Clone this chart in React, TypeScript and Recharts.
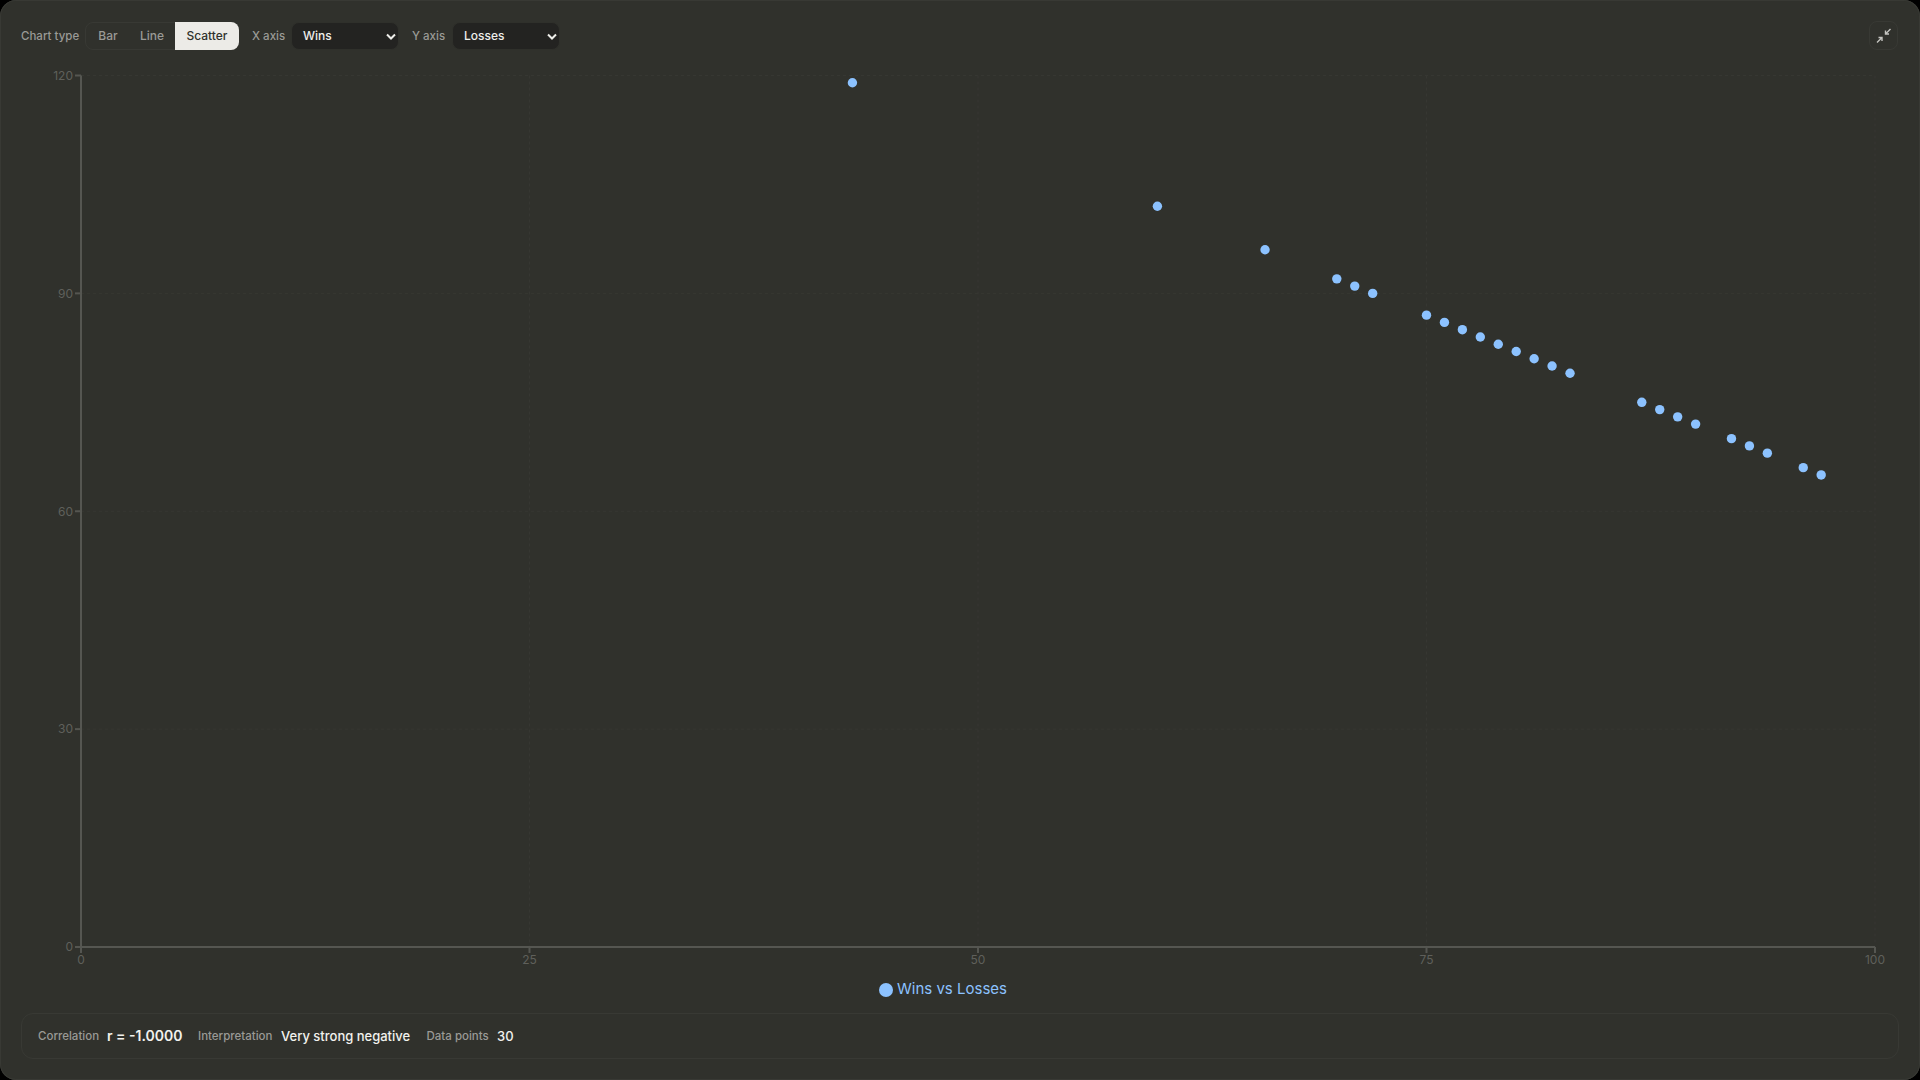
import { FC } from "react";
import {
  ScatterChart,
  Scatter,
  XAxis,
  YAxis,
  CartesianGrid,
  Legend,
} from "recharts";

const WINS = [43, 60, 66, 70, 71, 72, 75, 76, 77, 78, 79, 80, 81, 82, 83, 87, 88, 89, 90, 92, 93, 94, 96, 97];
const LOSSES = [119, 102, 96, 92, 91, 90, 87, 86, 85, 84, 83, 82, 81, 80, 79, 75, 74, 73, 72, 70, 69, 68, 66, 65];
const X_TICKS = [0, 25, 50, 75, 100];
const Y_TICKS = [0, 30, 60, 90, 120];
const CHART_TYPES = ["Bar", "Line", "Scatter"];
const SERIES_NAME = "Wins vs Losses";

const points = WINS.map((wins, i) => ({ wins, losses: LOSSES[i] }));

const FONT = "Inter, sans-serif";
const BLUE = "#8cc2ff";

const label = { fontSize: 11.5, color: "#9a9a96", fontWeight: 500 };

const Select: FC<{ text: string; left: number }> = ({ text, left }) => (
  <div
    style={{
      position: "absolute",
      left,
      top: 22,
      width: 108,
      height: 28,
      boxSizing: "border-box",
      background: "#232321",
      border: "1px solid #2f302b",
      borderRadius: 8,
      color: "#eeeeea",
      fontSize: 12,
      fontWeight: 500,
      lineHeight: "26px",
      paddingLeft: 11,
    }}
  >
    {text}
    <svg width="10" height="8" style={{ position: "absolute", right: 2, top: 10 }}>
      <path d="M1 1.5 L5 5.5 L9 1.5" fill="none" stroke="#eeeeea" strokeWidth="2" />
    </svg>
  </div>
);

const Dot = (props: any) => <circle cx={props.cx} cy={props.cy} r={4.7} fill={BLUE} />;

export default function App() {
  return (
    <div
      style={{
        position: "fixed",
        left: 0,
        top: 0,
        width: 1920,
        height: 1080,
        background: "#000",
        fontFamily: FONT,
        overflow: "hidden",
      }}
    >
      <div
        style={{
          position: "absolute",
          inset: 0,
          background: "#30312c",
          borderRadius: 16,
          boxShadow: "inset 0 0 0 1px #383934",
        }}
      />

      <span style={{ ...label, position: "absolute", left: 21, top: 29 }}>Chart type</span>
      <div
        style={{
          position: "absolute",
          left: 85,
          top: 22,
          width: 154,
          height: 28,
          boxSizing: "border-box",
          border: "1px solid #383934",
          borderRadius: 8,
        }}
      />
      {CHART_TYPES.map((t, i) => (
        <div
          key={t}
          style={{
            position: "absolute",
            left: [90, 140, 175][i],
            top: 22,
            width: [36, 22, 64][i],
            height: 28,
            lineHeight: "28px",
            textAlign: "center",
            fontSize: 12,
            fontWeight: 500,
            color: t === "Scatter" ? "#30312c" : "#9a9a96",
            background: t === "Scatter" ? "#ecebe7" : "transparent",
            borderRadius: t === "Scatter" ? "0 8px 8px 0" : 0,
          }}
        >
          {t}
        </div>
      ))}
      <span style={{ ...label, position: "absolute", left: 252, top: 29 }}>X axis</span>
      <Select text="Wins" left={291} />
      <span style={{ ...label, position: "absolute", left: 412, top: 29 }}>Y axis</span>
      <Select text="Losses" left={452} />

      <div
        style={{
          position: "absolute",
          left: 1869,
          top: 21,
          width: 29,
          height: 29,
          boxSizing: "border-box",
          border: "1px solid #383934",
          borderRadius: 8,
        }}
      >
        <svg width="16" height="16" style={{ position: "absolute", left: 6, top: 6 }}>
          <path
            d="M14.5 1 L9.5 6 M9.5 2.5 V6 H13 M1 14.5 L6 9.5 M6 13 V9.5 H2.5"
            fill="none"
            stroke="#c4c4c0"
            strokeWidth="1.4"
          />
        </svg>
      </div>

      <div style={{ position: "absolute", left: 0, top: 60 }}>
        <ScatterChart
          width={1900}
          height={978}
          margin={{ top: 15.5, right: 25, bottom: 40, left: 21 }}
        >
          <CartesianGrid stroke="#363732" strokeDasharray="3 3" />
          <XAxis
            type="number"
            dataKey="wins"
            domain={[0, 100]}
            ticks={X_TICKS}
            height={32}
            stroke="#555651"
            tick={{ fill: "#5f605b", fontSize: 12 }}
            tickSize={6}
            strokeWidth={2}
          />
          <YAxis
            type="number"
            dataKey="losses"
            domain={[0, 120]}
            ticks={Y_TICKS}
            stroke="#555651"
            tick={{ fill: "#5f605b", fontSize: 12 }}
            tickSize={6}
            width={60}
            strokeWidth={2}
          />
          <Legend
            verticalAlign="bottom"
            iconType="circle"
            iconSize={14}
            wrapperStyle={{ fontSize: 15, color: BLUE }}
          />
          <Scatter
            name={SERIES_NAME}
            data={points}
            fill={BLUE}
            shape={Dot}
            isAnimationActive={false}
          />
        </ScatterChart>
      </div>

      <div
        style={{
          position: "absolute",
          left: 21,
          top: 1013,
          width: 1878,
          height: 46,
          boxSizing: "border-box",
          border: "1px solid #383934",
          borderRadius: 12,
        }}
      />
      <span style={{ ...label, position: "absolute", left: 38, top: 1029 }}>Correlation</span>
      <span style={{ position: "absolute", left: 107, top: 1027, fontSize: 14, fontWeight: 600, color: "#f2f2ee" }}>
        r = -1.0000
      </span>
      <span style={{ ...label, position: "absolute", left: 198, top: 1029 }}>Interpretation</span>
      <span style={{ position: "absolute", left: 281, top: 1028, fontSize: 13, fontWeight: 500, color: "#f2f2ee" }}>
        Very strong negative
      </span>
      <span style={{ ...label, position: "absolute", left: 426.5, top: 1029 }}>Data points</span>
      <span style={{ position: "absolute", left: 497, top: 1028, fontSize: 13, fontWeight: 500, color: "#f2f2ee" }}>
        30
      </span>
    </div>
  );
}
